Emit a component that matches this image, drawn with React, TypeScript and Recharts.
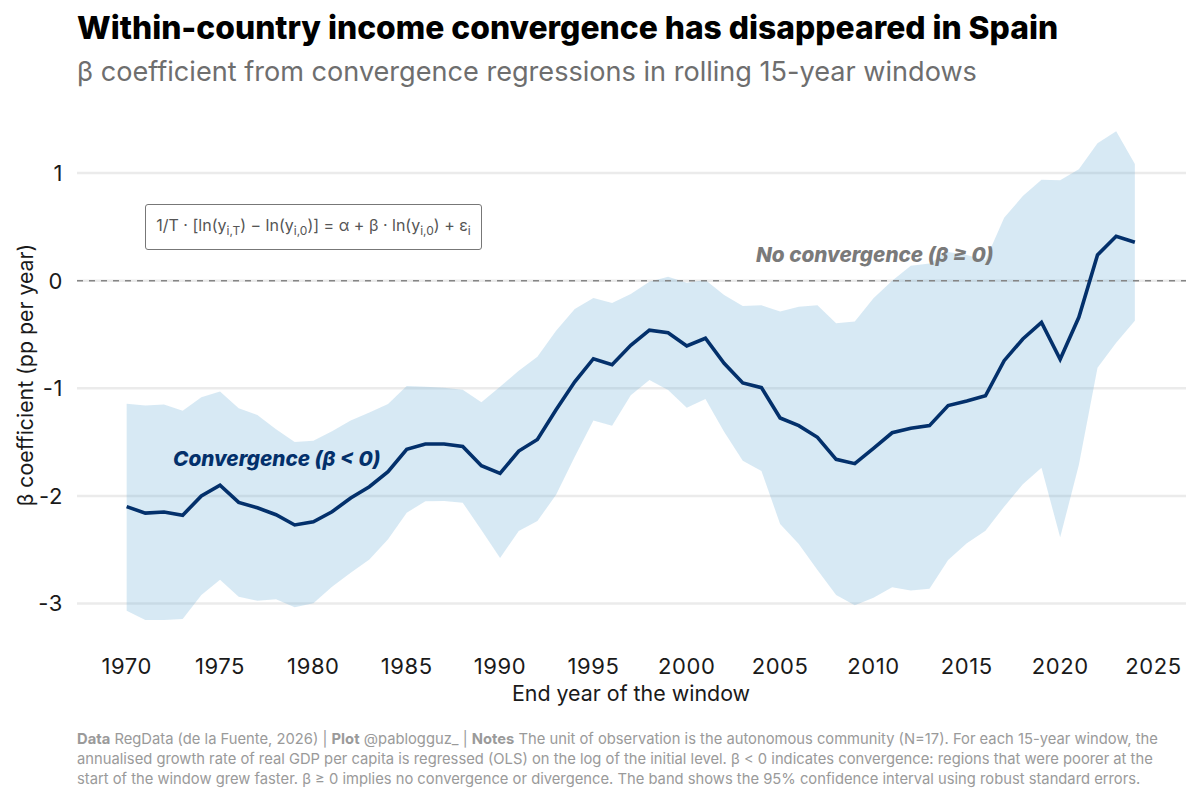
import React from "react";
import { ComposedChart, Area, Line, XAxis, YAxis, CartesianGrid, ReferenceLine } from "recharts";

const FONT = "'Inter', sans-serif";

const YEARS = [
  1970, 1971, 1972, 1973, 1974, 1975, 1976, 1977, 1978, 1979,
  1980, 1981, 1982, 1983, 1984, 1985, 1986, 1987, 1988, 1989,
  1990, 1991, 1992, 1993, 1994, 1995, 1996, 1997, 1998, 1999,
  2000, 2001, 2002, 2003, 2004, 2005, 2006, 2007, 2008, 2009,
  2010, 2011, 2012, 2013, 2014, 2015, 2016, 2017, 2018, 2019,
  2020, 2021, 2022, 2023, 2024,
];

const BETA = [
  -2.1, -2.16, -2.15, -2.18, -2.0, -1.9, -2.06, -2.11, -2.175, -2.27,
  -2.24, -2.147, -2.02, -1.915, -1.775, -1.567, -1.518, -1.518, -1.54, -1.72,
  -1.79, -1.583, -1.475, -1.2, -0.94, -0.725, -0.78, -0.6, -0.46, -0.483,
  -0.607, -0.535, -0.768, -0.95, -0.994, -1.276, -1.347, -1.455, -1.66, -1.7,
  -1.558, -1.413, -1.372, -1.347, -1.16, -1.118, -1.07, -0.743, -0.542, -0.387,
  -0.73, -0.34, 0.239, 0.413, 0.357,
];

const CI_HIGH = [
  -1.143, -1.16, -1.15, -1.208, -1.084, -1.03, -1.186, -1.248, -1.38, -1.5,
  -1.487, -1.4, -1.3, -1.224, -1.146, -0.979, -0.985, -0.994, -1.013, -1.13,
  -0.985, -0.836, -0.706, -0.465, -0.263, -0.161, -0.207, -0.124, -0.009, 0.037,
  -0.018, 0.007, -0.133, -0.235, -0.229, -0.285, -0.241, -0.229, -0.396, -0.378,
  -0.164, 0.0, 0.14, 0.16, 0.267, 0.24, 0.19, 0.585, 0.787, 0.939,
  0.933, 1.035, 1.277, 1.39, 1.085,
];

const CI_LOW = [
  -3.067, -3.153, -3.153, -3.144, -2.92, -2.78, -2.936, -2.974, -2.96, -3.035,
  -2.998, -2.844, -2.714, -2.59, -2.403, -2.156, -2.05, -2.047, -2.063, -2.317,
  -2.577, -2.326, -2.233, -1.99, -1.636, -1.3, -1.347, -1.065, -0.923, -1.016,
  -1.18, -1.1, -1.403, -1.673, -1.768, -2.26, -2.447, -2.689, -2.92, -3.017,
  -2.946, -2.85, -2.88, -2.862, -2.596, -2.44, -2.323, -2.1, -1.892, -1.738,
  -2.385, -1.713, -0.81, -0.576, -0.372,
];

const X_TICKS = [1970, 1975, 1980, 1985, 1990, 1995, 2000, 2005, 2010, 2015, 2020, 2025];
const Y_TICKS = [-3, -2, -1, 0, 1];

const data = YEARS.map((year, i) => ({
  year,
  beta: BETA[i],
  band: [CI_LOW[i], CI_HIGH[i]],
}));

const abs = (left: number, top: number): React.CSSProperties => ({
  position: "absolute",
  left,
  top,
  whiteSpace: "nowrap",
  fontFamily: FONT,
});

const subStyle: React.CSSProperties = { fontSize: 12, verticalAlign: "-4px", lineHeight: 0 };

const tickStyle = { fontSize: 22, fill: "#1a1a1a", fontFamily: FONT, letterSpacing: 0.6 };

export default function App() {
  return (
    <div style={{ position: "absolute", left: 0, top: 0, width: 1200, height: 800, background: "#fff", overflow: "hidden" }}>
      <ComposedChart
        width={1200}
        height={800}
        data={data}
        margin={{ top: 106.4, right: 14, bottom: 125.6, left: 0 }}
      >
        <CartesianGrid vertical={false} horizontalValues={Y_TICKS} stroke="#ebebeb" strokeWidth={2.5} />
        <XAxis
          dataKey="year"
          type="number"
          domain={[1967.34, 2026.74]}
          ticks={X_TICKS}
          axisLine={false}
          tickLine={false}
          tickMargin={8}
          interval={0}
          tick={tickStyle}
        />
        <YAxis
          type="number"
          width={77}
          domain={[-3.38, 1.62]}
          ticks={Y_TICKS}
          axisLine={false}
          tickLine={false}
          tickMargin={8}
          interval={0}
          tick={tickStyle}
        />
        <Area
          dataKey="band"
          type="linear"
          stroke="none"
          fill="#6baed6"
          fillOpacity={0.27}
          dot={false}
          activeDot={false}
          isAnimationActive={false}
        />
        <ReferenceLine y={0} stroke="#858585" strokeWidth={1.5} strokeDasharray="6 6" />
        <Line
          dataKey="beta"
          type="linear"
          stroke="#03306b"
          strokeWidth={3.6}
          dot={false}
          activeDot={false}
          isAnimationActive={false}
        />
      </ComposedChart>

      <div style={{ ...abs(77, 8), fontSize: 31.8, fontWeight: 800, color: "#000" }}>
        Within-country income convergence has disappeared in Spain
      </div>
      <div style={{ ...abs(77, 55), fontSize: 27.1, color: "#6e6e6e" }}>
        β coefficient from convergence regressions in rolling 15-year windows
      </div>

      <div
        style={{
          ...abs(145, 204),
          width: 337,
          height: 46,
          boxSizing: "border-box",
          border: "1px solid #777",
          borderRadius: 3,
          background: "#fff",
          fontSize: 16,
          color: "#555",
          lineHeight: "41px",
          textAlign: "center",
        }}
      >
        1/T · [ln(y<span style={subStyle}>i,T</span>) − ln(y<span style={subStyle}>i,0</span>)] = α + β · ln(y<span style={subStyle}>i,0</span>) + ε<span style={subStyle}>i</span>
      </div>

      <div style={{ ...abs(173, 446), fontSize: 20.7, fontWeight: 800, fontStyle: "italic", color: "#03306b" }}>
        Convergence (β &lt; 0)
      </div>
      <div style={{ ...abs(756, 242), fontSize: 20.7, fontWeight: 800, fontStyle: "italic", color: "#7a7a7a" }}>
        No convergence (β ≥ 0)
      </div>

      <div
        style={{
          ...abs(25, 375),
          fontSize: 21.3,
          color: "#1a1a1a",
          transform: "translate(-50%, -50%) rotate(-90deg)",
        }}
      >
        β coefficient (pp per year)
      </div>
      <div style={{ ...abs(631, 693), fontSize: 21.4, color: "#1a1a1a", transform: "translate(-50%, -50%)" }}>
        End year of the window
      </div>

      <div style={{ ...abs(77, 729), fontSize: 14.75, lineHeight: "20px", color: "#9a9a9a" }}>
        <b>Data</b> RegData (de la Fuente, 2026) | <b>Plot</b> @pablogguz_ | <b>Notes</b> The unit of observation is the autonomous community (N=17). For each 15-year window, the
        <br />
        annualised growth rate of real GDP per capita is regressed (OLS) on the log of the initial level. β &lt; 0 indicates convergence: regions that were poorer at the
        <br />
        start of the window grew faster. β ≥ 0 implies no convergence or divergence. The band shows the 95% confidence interval using robust standard errors.
      </div>
    </div>
  );
}
